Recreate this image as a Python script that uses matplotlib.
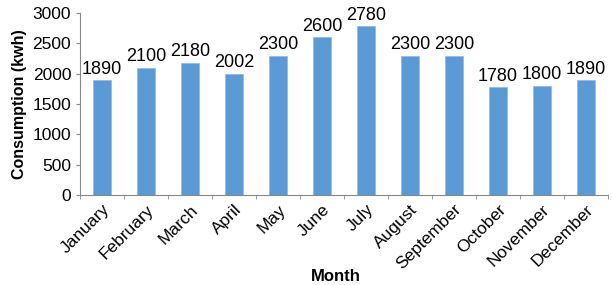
import matplotlib
matplotlib.use('Agg')
from matplotlib import pyplot as plt

months = ['January', 'February', 'March', 'April', 'May', 'June', 'July',
          'August', 'September', 'October', 'November', 'December']
consumption = [1890, 2100, 2180, 2002, 2300, 2600, 2780, 2300, 2300, 1780, 1800, 1890]

plt.rcParams['font.family'] = ['Liberation Sans', 'DejaVu Sans']

fig = plt.figure(figsize=(6.12, 2.85), dpi=100)
ax = fig.add_axes([0.131, 0.316, 0.862, 0.638])

x = range(len(months))
bars = ax.bar(x, consumption, width=0.4, color='#5B9BD5', edgecolor='#8FB8E0', linewidth=0.5)
for xi, v in zip(x, consumption):
    ax.text(xi, v + 40, str(v), ha='center', va='bottom', fontsize=13)

ax.set_xlim(-0.5, len(months) - 0.5)
ax.set_ylim(0, 3000)
ax.set_yticks(range(0, 3001, 500))
ax.set_xticks(x)
ax.set_xticklabels(months, rotation=45, ha='right', rotation_mode='anchor', fontsize=12.5)
ax.tick_params(axis='x', length=0, pad=5)
ax.set_xticks([i + 0.5 for i in range(-1, len(months))], minor=True)
ax.tick_params(axis='x', which='minor', length=3, color='#888888')
ax.tick_params(axis='y', labelsize=12.5, length=3, color='#888888')

for s in ['top', 'right']:
    ax.spines[s].set_visible(False)
for s in ['left', 'bottom']:
    ax.spines[s].set_color('#888888')

ax.set_ylabel('Consumption (kwh)', fontsize=11.5, fontweight='bold')
ax.set_xlabel('Month', fontsize=12, fontweight='bold')
ax.xaxis.set_label_coords(0.485, -0.41)

fig.savefig('out.png', dpi=100)
